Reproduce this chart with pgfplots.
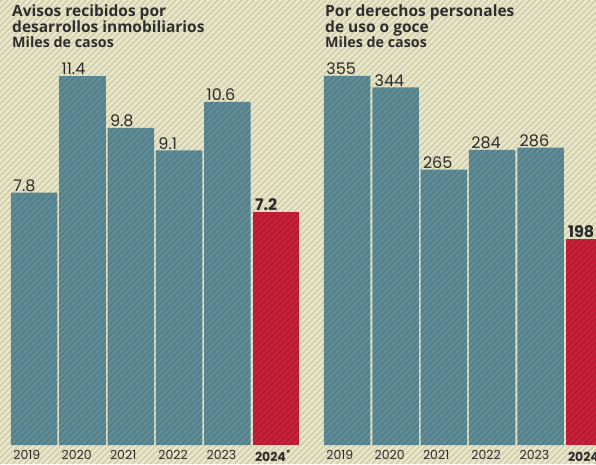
\documentclass[border=0pt]{standalone}
\usepackage{pgfplots}
\pgfplotsset{compat=1.18}
\usepackage{fontspec}
\setmainfont{Open Sans}
\newfontfamily\numfont{Poppins}
\definecolor{bgc}{HTML}{ECE9C8}
\definecolor{barc}{HTML}{5F8F9A}
\definecolor{redc}{HTML}{CC1F3A}
\definecolor{txt}{HTML}{2E2E2E}
\pgfplotsset{
  panel/.style={
    scale only axis, width=290pt,
    xmin=-0.5, xmax=5.5, ymin=0,
    axis line style={draw=none},
    ytick=\empty, xtick={0,1,2,3,4,5},
    major tick length=0pt,
    xticklabel style={font=\numfont\fontsize{12.5}{12.5}\selectfont, text=txt, anchor=north west, xshift=-22pt, yshift=-4pt, inner sep=1pt},
    ybar, bar width=46.5pt,
    nodes near coords,
    nodes near coords style={font=\numfont\fontsize{16}{16}\selectfont, text=txt, anchor=south west, xshift=-22pt, inner sep=1pt, yshift=0pt},
    clip=false,
  }
}
\begin{document}
\begin{tikzpicture}[x=1pt,y=1pt]
\clip (0,0) rectangle (596,464);
\fill[bgc] (0,0) rectangle (596,464);
\begin{axis}[panel, at={(10pt,19pt)}, anchor=south west, ymax=12, height=388.4pt,
  xticklabels={2019,2020,2021,2022,2023,{\bfseries 2024\textsuperscript{*}}}]
\addplot[fill=barc, draw=none, bar shift=0pt, point meta=explicit symbolic] coordinates {(0,7.8)[7.8] (1,11.4)[11.4] (2,9.8)[9.8] (3,9.1)[9.1] (4,10.6)[10.6]};
\addplot[fill=redc, draw=none, bar shift=0pt, point meta=explicit symbolic,
  nodes near coords style={font=\numfont\bfseries\fontsize{16}{16}\selectfont}] coordinates {(5,7.2)[7.2]};
\end{axis}
\begin{axis}[panel, at={(323pt,19pt)}, anchor=south west, ymax=370, height=384.6pt,
  xticklabels={2019,2020,2021,2022,2023,{\bfseries 2024\textsuperscript{*}}}]
\addplot[fill=barc, draw=none, bar shift=0pt, point meta=explicit symbolic] coordinates {(0,355)[355] (1,344)[344] (2,265)[265] (3,284)[284] (4,286)[286]};
\addplot[fill=redc, draw=none, bar shift=0pt, point meta=explicit symbolic,
  nodes near coords style={font=\numfont\bfseries\fontsize{16}{16}\selectfont}] coordinates {(5,198)[198]};
\end{axis}
\foreach \i in {-480,-474,...,600} {
  \draw[black, opacity=0.11, line width=1.9pt] (\i,0) -- ++(464,464);
}
\node[anchor=base west, align=left, inner sep=0pt, text=txt, font=\bfseries\fontsize{15.5}{15}\selectfont] at (12,416)
  {Avisos recibidos por\\desarrollos inmobiliarios\\{\fontsize{14.3}{15}\selectfont Miles de casos}};
\node[anchor=base west, align=left, inner sep=0pt, text=txt, font=\bfseries\fontsize{15.5}{15}\selectfont] at (325,416)
  {Por derechos personales\\de uso o goce\\{\fontsize{14.3}{15}\selectfont Miles de casos}};
\end{tikzpicture}
\end{document}
